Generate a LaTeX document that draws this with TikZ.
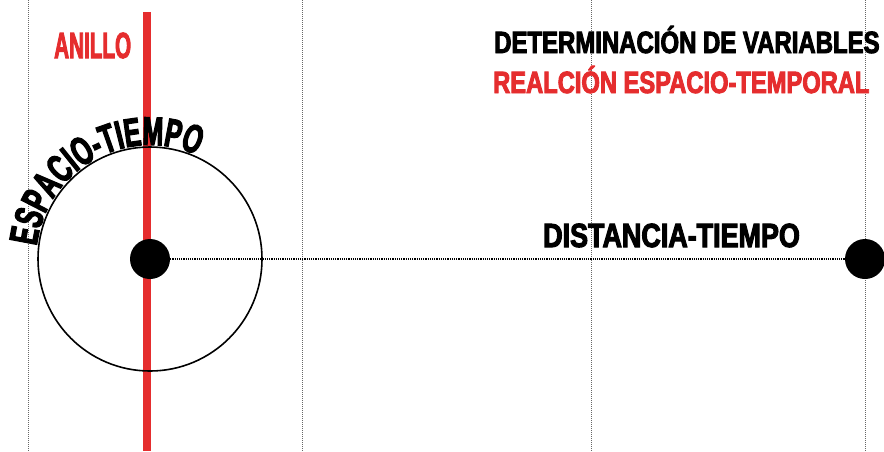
\documentclass[tikz,border=0pt]{standalone}
\usepackage{fontspec}
\newfontfamily\heavyfont[FakeStretch=0.78,FakeBold=3]{Liberation Sans}
\newfontfamily\curvafont[FakeStretch=0.62,FakeBold=3]{Liberation Sans}
\usetikzlibrary{positioning,decorations.text}
\definecolor{anillored}{RGB}{229,45,46}

\begin{document}
\begin{tikzpicture}[x=1pt,y=1pt,
    guia/.style={draw=gray!80!black,densely dotted,line width=1pt},
    punto/.style={circle,fill=black,inner sep=0pt,minimum size=40pt},
    rotulo/.style={anchor=base west,inner sep=0pt,font=\heavyfont\bfseries\fontsize{#1}{#1}\selectfont}]

\useasboundingbox (0,0) rectangle (884,-451);

\foreach \gx in {28,302,591,865}
  \draw[guia] (\gx,0) -- (\gx,-451);

\draw[anillored,line width=8pt] (147,-12) -- (147,-451);
\draw[line width=1.6pt] (150,-259) circle[radius=112];

\node[punto] (centro) at (150,-259) {};
\node[punto] (destino) at (865,-259) {};
\draw[line width=1.2pt,densely dotted] (centro) -- (destino);

% texto curvo sobre el anillo
\path[decorate,decoration={text along path,text align=center,
    text={|\curvafont\bfseries\fontsize{40}{40}\selectfont|ESPACIO-TIEMPO}}]
  (150,-259) ++(200:114) arc[start angle=200,end angle=39,radius=114];

\node[rotulo=36.3,text=anillored] (anillo) at (54,-58) {\scalebox{0.73}[1]{ANILLO}};
\node[rotulo=30.7] (variables) at (494,-53) {DETERMINACIÓN DE VARIABLES};
\node[rotulo=30.7,text=anillored] (relacion) at (493,-93) {\scalebox{0.99}[1]{REALCIÓN ESPACIO-TEMPORAL}};
\node[rotulo=33.5] (distancia) at (543,-247) {\scalebox{1.03}[1]{DISTANCIA-TIEMPO}};

\end{tikzpicture}
\end{document}
